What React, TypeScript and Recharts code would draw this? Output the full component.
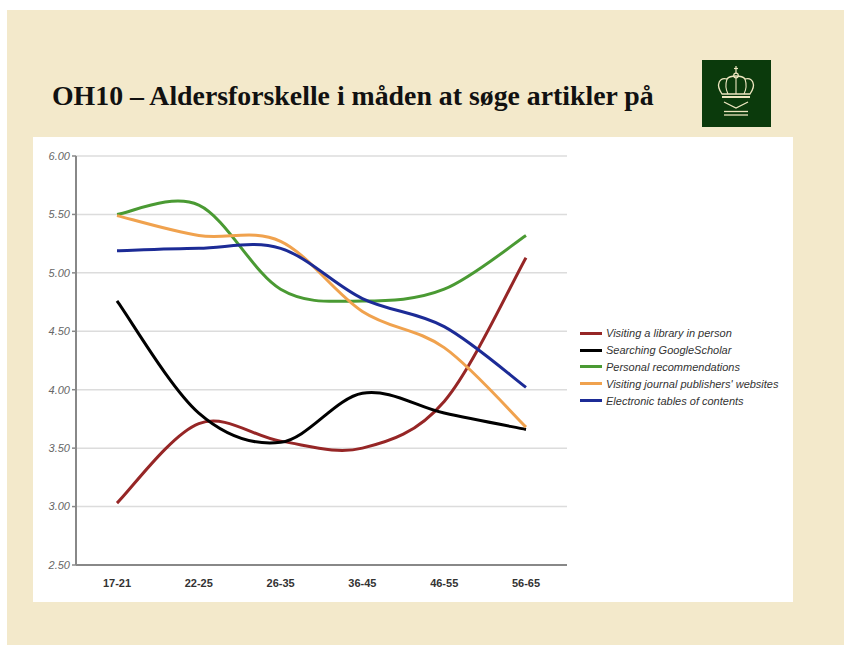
import { LineChart, Line, XAxis, YAxis, CartesianGrid } from "recharts";

const categories = ["17-21", "22-25", "26-35", "36-45", "46-55", "56-65"];
const library = [3.03, 3.71, 3.56, 3.5, 3.9, 5.13];
const scholar = [4.76, 3.8, 3.55, 3.97, 3.8, 3.66];
const personal = [5.5, 5.58, 4.86, 4.76, 4.86, 5.32];
const publishers = [5.49, 5.32, 5.27, 4.67, 4.36, 3.68];
const electronic = [5.19, 5.21, 5.21, 4.78, 4.54, 4.02];
const yTicks = [2.5, 3, 3.5, 4, 4.5, 5, 5.5, 6];

const series = [
  { key: "library", name: "Visiting a library in person", color: "#962626" },
  { key: "scholar", name: "Searching GoogleScholar", color: "#000000" },
  { key: "personal", name: "Personal recommendations", color: "#4a9a33" },
  { key: "publishers", name: "Visiting journal publishers' websites", color: "#f0a24e" },
  { key: "electronic", name: "Electronic tables of contents", color: "#1c2b96" },
];

const data = categories.map((age, i) => ({
  age,
  library: library[i],
  scholar: scholar[i],
  personal: personal[i],
  publishers: publishers[i],
  electronic: electronic[i],
}));

const sans = "'Liberation Sans', Arial, sans-serif";

// catmull-rom style smoothing, closer to the original "smooth line" look than monotone
function smoothCurve(context: any) {
  let pts: number[][] = [];
  return {
    areaStart() {},
    areaEnd() {},
    lineStart() {
      pts = [];
    },
    point(x: number, y: number) {
      pts.push([+x, +y]);
    },
    lineEnd() {
      if (!pts.length) return;
      context.moveTo(pts[0][0], pts[0][1]);
      for (let i = 0; i < pts.length - 1; i++) {
        const p0 = pts[i - 1] || pts[i];
        const p1 = pts[i];
        const p2 = pts[i + 1];
        const p3 = pts[i + 2] || p2;
        context.bezierCurveTo(
          p1[0] + (p2[0] - p0[0]) / 6,
          p1[1] + (p2[1] - p0[1]) / 6,
          p2[0] - (p3[0] - p1[0]) / 6,
          p2[1] - (p3[1] - p1[1]) / 6,
          p2[0],
          p2[1]
        );
      }
    },
  };
}

function LegendBox() {
  return (
    <div style={{ position: "absolute", left: 580, top: 325, fontFamily: sans, fontSize: 11, fontStyle: "italic", color: "#333" }}>
      {series.map((s) => (
        <div key={s.key} style={{ display: "flex", alignItems: "center", height: 16.8, whiteSpace: "nowrap" }}>
          <span style={{ display: "inline-block", width: 22, height: 3, background: s.color, marginRight: 4 }} />
          <span>{s.name}</span>
        </div>
      ))}
    </div>
  );
}

function Crown() {
  const c = "#eee6c0";
  return (
    <svg width={69} height={67} viewBox="0 0 69 67">
      <line x1={34} y1={6} x2={34} y2={13} stroke={c} strokeWidth={1.2} />
      <line x1={32} y1={8.5} x2={36} y2={8.5} stroke={c} strokeWidth={1.2} />
      <circle cx={34} cy={15.5} r={2.3} fill="none" stroke={c} strokeWidth={1.2} />
      <path d="M20,34 C13,24 18,17 25,19 C28,15 40,15 43,19 C50,17 55,24 48,34 Z" fill="none" stroke={c} strokeWidth={1.3} />
      <path d="M25,19 C23,25 24,30 26,34 M43,19 C45,25 44,30 42,34 M34,18 L34,34" fill="none" stroke={c} strokeWidth={1.1} />
      <line x1={20} y1={37} x2={48} y2={37} stroke={c} strokeWidth={2} />
      <polyline points="22,42 34,48 46,42" fill="none" stroke={c} strokeWidth={1.3} />
      <line x1={22} y1={51.5} x2={46} y2={51.5} stroke={c} strokeWidth={1.3} />
      <line x1={22} y1={55} x2={46} y2={55} stroke={c} strokeWidth={1.3} />
    </svg>
  );
}

export default function App() {
  return (
    <div style={{ position: "absolute", left: 0, top: 0, width: 844, height: 646, background: "#fff" }}>
      <div style={{ position: "absolute", left: 7, top: 10, width: 837, height: 635, background: "#f3e9cb" }} />
      <div
        style={{
          position: "absolute",
          left: 52,
          top: 80,
          fontFamily: "'Liberation Serif', 'Times New Roman', serif",
          fontWeight: "bold",
          fontSize: 27.8,
          color: "#111",
          whiteSpace: "nowrap",
        }}
      >
        OH10 – Aldersforskelle i måden at søge artikler på
      </div>
      <div style={{ position: "absolute", left: 702, top: 60, width: 69, height: 67, background: "#0b3a0c" }}>
        <Crown />
      </div>
      <div style={{ position: "absolute", left: 33, top: 137, width: 760, height: 465, background: "#fff" }}>
        <LineChart width={760} height={465} data={data} margin={{ top: 19, right: 226, left: 0, bottom: 7 }}>
          <CartesianGrid horizontal vertical={false} stroke="#dcdcdc" strokeWidth={1.5} />
          <XAxis
            dataKey="age"
            padding={{ left: 41, right: 41 }}
            height={30}
            axisLine={{ stroke: "#888", strokeWidth: 2 }}
            tickLine={false}
            tickMargin={8}
            tick={{ fontFamily: sans, fontSize: 11, fontWeight: "bold", fill: "#333" }}
          />
          <YAxis
            domain={[2.5, 6]}
            ticks={yTicks}
            width={43}
            interval={0}
            tickFormatter={(v: number) => v.toFixed(2)}
            axisLine={{ stroke: "#888", strokeWidth: 2 }}
            tickLine={{ stroke: "#888", strokeWidth: 1.5 }}
            tickSize={4}
            tickMargin={2}
            tick={{ fontFamily: sans, fontSize: 11, fontStyle: "italic", fill: "#666" }}
          />
          {series.map((s) => (
            <Line
              key={s.key}
              type={smoothCurve as any}
              dataKey={s.key}
              name={s.name}
              stroke={s.color}
              strokeWidth={3}
              dot={false}
              activeDot={false}
              isAnimationActive={false}
            />
          ))}
        </LineChart>
      </div>
      <LegendBox />
    </div>
  );
}
